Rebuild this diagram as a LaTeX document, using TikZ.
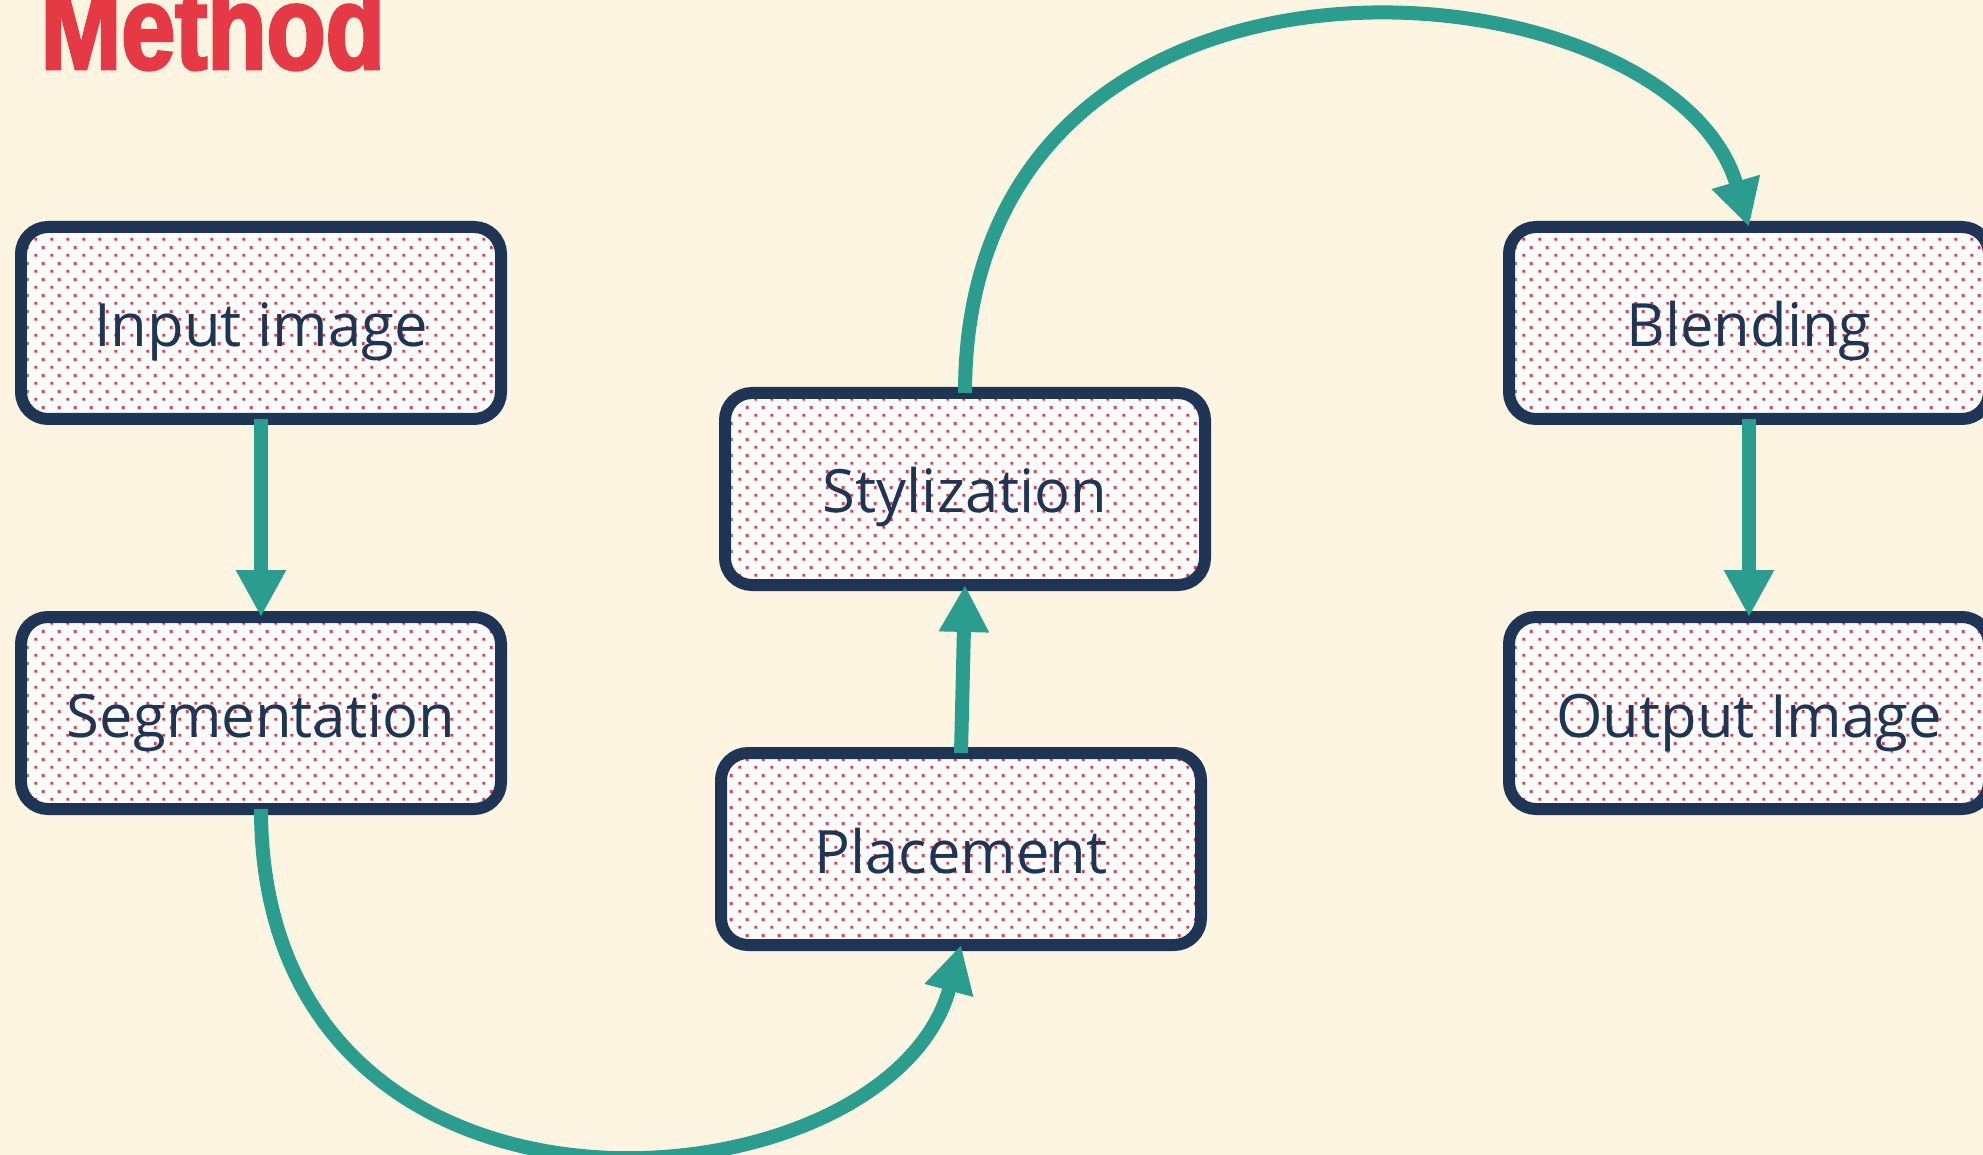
\documentclass[tikz,border=0pt]{standalone}
\usepackage{fontspec}
\setmainfont{Open Sans}
\newfontfamily\titlefont[FakeStretch=0.81,FakeBold=2.5]{Liberation Sans Bold}
\usetikzlibrary{positioning,arrows.meta,patterns.meta}

\definecolor{paper}{HTML}{FDF5E1}
\definecolor{navy}{HTML}{1F3556}
\definecolor{dotred}{HTML}{E63946}
\definecolor{teal}{HTML}{2A9D8F}

\tikzdeclarepattern{
  name=dotgrid,
  type=colored,
  bottom left={(0,0)}, top right={(0.16,0.16)},
  tile size={(0.16,0.16)},
  code={
    \fill[dotred] (0.025,0.025) rectangle (0.055,0.055);
    \fill[dotred] (0.105,0.105) rectangle (0.135,0.135);
  }
}

\begin{document}
\begin{tikzpicture}[
  font=\fontsize{17pt}{20pt}\selectfont,
  stage/.style={rectangle, rounded corners=0.27cm, draw=navy, line width=0.12cm,
                minimum width=4.8cm, minimum height=1.92cm, outer sep=0pt,
                preaction={fill=white}, pattern=dotgrid, text=navy,
                text height=0.6cm, text depth=0.12cm},
  flow/.style={draw=teal, line width=0.14cm,
               -{Triangle[length=4.7mm,width=4.7mm]}}
]
\fill[paper] (0,0) rectangle (19.83,-11.55);
\useasboundingbox (0,0) rectangle (19.83,-11.55);
\clip (0,0) rectangle (19.83,-11.55);

\node[anchor=base west, text=dotred, inner sep=0pt, font=\titlefont\fontsize{34pt}{36pt}\selectfont]
  (title) at (0.40,-0.69) {Method};

\node[stage] (inp) at (2.61,-3.23)  {Input image};
\node[stage] (seg) at (2.61,-7.13)  {Segmentation};
\node[stage] (sty) at (9.65,-4.89)  {Stylization};
\node[stage] (pla) at (9.61,-8.49)  {Placement};
\node[stage] (ble) at (17.49,-3.23) {Blending};
\node[stage] (out) at (17.49,-7.13) {Output Image};

\draw[flow] (inp.south) -- (seg.north);
\draw[flow] (seg.south) .. controls +(0,-4.6) and +(-0.72,-2.7) .. (pla.south);
\draw[flow] (pla.north) -- (sty.south);
\draw[flow] (sty.north) .. controls +(0,5.0) and +(-0.8,2.72) .. (ble.north);
\draw[flow] (ble.south) -- (out.north);
\end{tikzpicture}
\end{document}
